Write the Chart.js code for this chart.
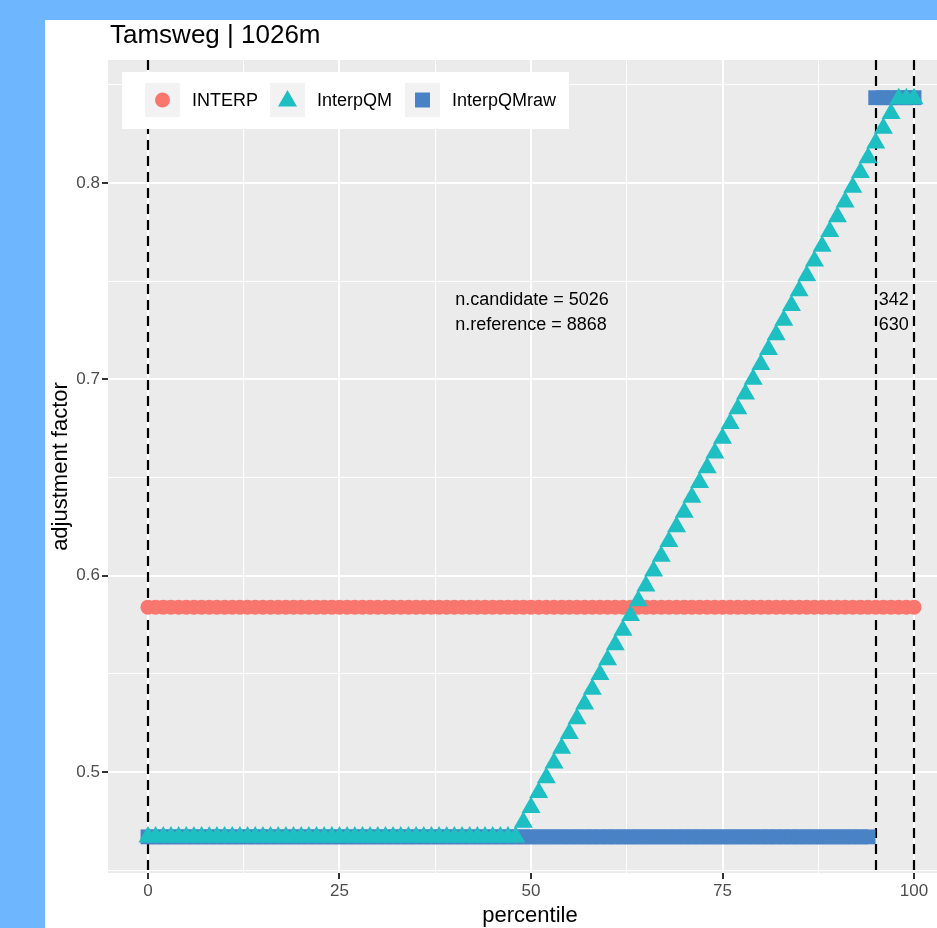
<!DOCTYPE html>
<html><head><meta charset="utf-8">
<script src="https://cdn.jsdelivr.net/npm/chart.js@4.4.1/dist/chart.umd.min.js"></script>
<style>html,body{margin:0;padding:0;background:#6EB6FE;overflow:hidden}
#wrap{position:relative;width:937px;height:928px}</style></head>
<body><div id="wrap"><canvas id="c" width="937" height="928"></canvas></div>
<script>
const percentiles = [0,1,2,3,4,5,6,7,8,9,10,11,12,13,14,15,16,17,18,19,20,21,22,23,24,25,26,27,28,29,30,31,32,33,34,35,36,37,38,39,40,41,42,43,44,45,46,47,48,49,50,51,52,53,54,55,56,57,58,59,60,61,62,63,64,65,66,67,68,69,70,71,72,73,74,75,76,77,78,79,80,81,82,83,84,85,86,87,88,89,90,91,92,93,94,95,96,97,98,99,100];
const interp = [0.584,0.584,0.584,0.584,0.584,0.584,0.584,0.584,0.584,0.584,0.584,0.584,0.584,0.584,0.584,0.584,0.584,0.584,0.584,0.584,0.584,0.584,0.584,0.584,0.584,0.584,0.584,0.584,0.584,0.584,0.584,0.584,0.584,0.584,0.584,0.584,0.584,0.584,0.584,0.584,0.584,0.584,0.584,0.584,0.584,0.584,0.584,0.584,0.584,0.584,0.584,0.584,0.584,0.584,0.584,0.584,0.584,0.584,0.584,0.584,0.584,0.584,0.584,0.584,0.584,0.584,0.584,0.584,0.584,0.584,0.584,0.584,0.584,0.584,0.584,0.584,0.584,0.584,0.584,0.584,0.584,0.584,0.584,0.584,0.584,0.584,0.584,0.584,0.584,0.584,0.584,0.584,0.584,0.584,0.584,0.584,0.584,0.584,0.584,0.584,0.584];
const interpQM = [0.467,0.467,0.467,0.467,0.467,0.467,0.467,0.467,0.467,0.467,0.467,0.467,0.467,0.467,0.467,0.467,0.467,0.467,0.467,0.467,0.467,0.467,0.467,0.467,0.467,0.467,0.467,0.467,0.467,0.467,0.467,0.467,0.467,0.467,0.467,0.467,0.467,0.467,0.467,0.467,0.467,0.467,0.467,0.467,0.467,0.467,0.467,0.467,0.467,
  0.4745,0.4820,0.4896,0.4971,0.5046,0.5121,0.5196,0.5272,0.5347,0.5422,0.5497,0.5572,0.5648,0.5723,0.5798,0.5873,0.5948,0.6024,0.6099,0.6174,0.6249,0.6324,0.6400,0.6475,0.6550,0.6625,0.6700,0.6776,0.6851,0.6926,0.7001,0.7076,0.7152,0.7227,0.7302,0.7377,0.7452,0.7528,0.7603,0.7678,0.7753,0.7828,0.7904,0.7979,0.8054,0.8129,0.8204,0.8280,0.8355,0.8430,0.843,0.843];
const interpQMraw = [0.467,0.467,0.467,0.467,0.467,0.467,0.467,0.467,0.467,0.467,0.467,0.467,0.467,0.467,0.467,0.467,0.467,0.467,0.467,0.467,0.467,0.467,0.467,0.467,0.467,0.467,0.467,0.467,0.467,0.467,0.467,0.467,0.467,0.467,0.467,0.467,0.467,0.467,0.467,0.467,0.467,0.467,0.467,0.467,0.467,0.467,0.467,0.467,0.467,0.467,0.467,0.467,0.467,0.467,0.467,0.467,0.467,0.467,0.467,0.467,0.467,0.467,0.467,0.467,0.467,0.467,0.467,0.467,0.467,0.467,0.467,0.467,0.467,0.467,0.467,0.467,0.467,0.467,0.467,0.467,0.467,0.467,0.467,0.467,0.467,0.467,0.467,0.467,0.467,0.467,0.467,0.467,0.467,0.467,0.467,
  0.8435,0.8435,0.8435,0.8435,0.8435,0.8435];
const seriesNames = ['INTERP','InterpQM','InterpQMraw'];
const seriesColors = ['#F8766D','#1DBFC2','#4A82C6'];
const xMajorTicks = [0,25,50,75,100];
const xMinorTicks = [12.5,37.5,62.5,87.5];
const yMajorTicks = [0.5,0.6,0.7,0.8];
const yMinorTicks = [0.45,0.55,0.65,0.75,0.85];
const vLines = [0,95,100];
const notes = [
  {x:40.1, y:0.7405, text:'n.candidate = 5026'},
  {x:40.1, y:0.7275, text:'n.reference = 8868'},
  {x:95.4, y:0.7405, text:'342'},
  {x:95.4, y:0.7275, text:'630'}
];
const titleText = 'Tamsweg | 1026m';
const xTitle = 'percentile';
const yTitle = 'adjustment factor';

const FONT = '"Liberation Sans", Arial, Helvetica, sans-serif';
const toXY = (ys) => ys.map((v,i)=>({x:percentiles[i], y:v}));

const bgPlugin = {
  id:'bg',
  beforeDraw(chart){
    const ctx = chart.ctx, a = chart.chartArea;
    ctx.save();
    ctx.fillStyle = '#6EB6FE';
    ctx.fillRect(0,0,chart.width,chart.height);
    ctx.fillStyle = '#FFFFFF';
    ctx.fillRect(45,20,chart.width-45,chart.height-20);
    ctx.fillStyle = '#EBEBEB';
    ctx.fillRect(a.left,a.top,a.right-a.left,a.bottom-a.top);
    ctx.restore();
  },
  beforeDatasetsDraw(chart){
    const ctx = chart.ctx, a = chart.chartArea, xs = chart.scales.x;
    ctx.save();
    ctx.strokeStyle = '#000';
    ctx.lineWidth = 2.2;
    ctx.setLineDash([10,6]);
    vLines.forEach(v=>{
      const px = Math.round(xs.getPixelForValue(v));
      ctx.beginPath(); ctx.moveTo(px, a.top); ctx.lineTo(px, a.bottom); ctx.stroke();
    });
    ctx.restore();
  },
  afterDraw(chart){
    const ctx = chart.ctx, a = chart.chartArea, xs = chart.scales.x, ys = chart.scales.y;
    ctx.save();
    ctx.fillStyle = '#000';
    ctx.font = '18px ' + FONT;
    ctx.textAlign = 'left'; ctx.textBaseline = 'middle';
    notes.forEach(n=>ctx.fillText(n.text, xs.getPixelForValue(n.x), ys.getPixelForValue(n.y)));
    ctx.font = '26px ' + FONT;
    ctx.textBaseline = 'alphabetic';
    ctx.fillText(titleText, 110, 43);
    ctx.font = '22px ' + FONT;
    ctx.textAlign = 'center';
    ctx.fillText(xTitle, 530, 922);
    ctx.save();
    ctx.translate(67, (a.top+a.bottom)/2);
    ctx.rotate(-Math.PI/2);
    ctx.fillText(yTitle, 0, 0);
    ctx.restore();
    ctx.fillStyle = '#FFFFFF';
    ctx.fillRect(122,72,447,57);
    const keys = [145,270,405];
    const labelsX = [192,317,452];
    ctx.font = '18px ' + FONT;
    ctx.textAlign = 'left'; ctx.textBaseline = 'middle';
    keys.forEach((kx,i)=>{
      ctx.fillStyle = '#F2F2F2';
      ctx.fillRect(kx,83,35,34);
      const cx = kx+17.5, cy = 100;
      ctx.fillStyle = seriesColors[i];
      ctx.beginPath();
      if(i===0){ ctx.arc(cx,cy,7.5,0,Math.PI*2); }
      else if(i===1){ ctx.moveTo(cx,cy-10); ctx.lineTo(cx+9.5,cy+6.5); ctx.lineTo(cx-9.5,cy+6.5); ctx.closePath(); }
      else { ctx.rect(cx-7.5,cy-7.5,15,15); }
      ctx.fill();
      ctx.fillStyle = '#000';
      ctx.fillText(seriesNames[i], labelsX[i], cy+1);
    });
    ctx.restore();
  }
};

const isMajorX = v => xMajorTicks.includes(v);
const isMajorY = v => yMajorTicks.some(t=>Math.abs(t-v)<1e-9);
const zeroPad = s => { s.paddingLeft = 0; s.paddingRight = 0; s.paddingTop = 0; s.paddingBottom = 0; };

new Chart(document.getElementById('c'), {
  type:'scatter',
  data:{
    datasets:[
      {label:seriesNames[0], data:toXY(interp), pointStyle:'circle', pointRadius:7.5, pointHoverRadius:7.5,
       backgroundColor:seriesColors[0], borderColor:seriesColors[0], borderWidth:0, order:2},
      {label:seriesNames[1], data:toXY(interpQM), pointStyle:'triangle', pointRadius:11, pointHoverRadius:11,
       backgroundColor:seriesColors[1], borderColor:seriesColors[1], borderWidth:0, order:0},
      {label:seriesNames[2], data:toXY(interpQMraw), pointStyle:'rect', pointRadius:10.5, pointHoverRadius:10.5,
       backgroundColor:seriesColors[2], borderColor:seriesColors[2], borderWidth:0, order:1}
    ]
  },
  options:{
    responsive:false, animation:false, devicePixelRatio:1,
    layout:{autoPadding:false, padding:{left:0, top:60, right:0, bottom:0}},
    plugins:{legend:{display:false}, tooltip:{enabled:false}, title:{display:false}},
    events:[],
    scales:{
      x:{
        type:'linear', min:-5.22, max:103.0,
        afterBuildTicks(s){ s.ticks = [...xMajorTicks, ...xMinorTicks].sort((a,b)=>a-b).map(v=>({value:v})); },
        afterFit(s){ s.height = 55; zeroPad(s); },
        border:{display:false},
        grid:{
          color:'#FFFFFF',
          lineWidth: c => (c.tick && isMajorX(c.tick.value)) ? 2 : 1,
          tickColor: c => (c.tick && isMajorX(c.tick.value)) ? '#333333' : 'rgba(0,0,0,0)',
          tickLength:6, tickWidth:2
        },
        ticks:{
          autoSkip:false, maxRotation:0, padding:2, color:'#4D4D4D',
          font:{family:FONT, size:17},
          callback: v => isMajorX(v) ? String(v) : ''
        }
      },
      y:{
        type:'linear', min:0.4486, max:0.8627,
        afterBuildTicks(s){ s.ticks = [...yMajorTicks, ...yMinorTicks].sort((a,b)=>a-b).map(v=>({value:v})); },
        afterFit(s){ s.width = 108; zeroPad(s); },
        border:{display:false},
        grid:{
          color:'#FFFFFF',
          lineWidth: c => (c.tick && isMajorY(c.tick.value)) ? 2 : 1,
          tickColor: c => (c.tick && isMajorY(c.tick.value)) ? '#333333' : 'rgba(0,0,0,0)',
          tickLength:6, tickWidth:2
        },
        ticks:{
          autoSkip:false, padding:2, color:'#4D4D4D',
          font:{family:FONT, size:17},
          callback: v => isMajorY(v) ? v.toFixed(1) : ''
        }
      }
    }
  },
  plugins:[bgPlugin]
});
</script></body></html>
